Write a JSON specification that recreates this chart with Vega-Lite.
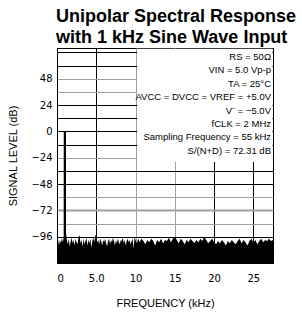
{
  "$schema": "https://vega.github.io/schema/vega-lite/v6.json",
  "autosize": "none",
  "padding": {"left": 57, "top": 48, "right": 29, "bottom": 49},
  "width": 216,
  "height": 215,
  "background": "white",
  "title": {
    "text": ["Unipolar Spectral Response", "with 1 kHz Sine Wave Input"],
    "anchor": "start",
    "frame": "group",
    "font": "Liberation Sans",
    "fontSize": 18,
    "fontWeight": "bold",
    "color": "black",
    "lineHeight": 20.6,
    "offset": 1,
    "dx": -1
  },
  "config": {
    "view": {"stroke": "black", "strokeWidth": 1},
    "axis": {
      "domain": false,
      "ticks": false,
      "labelColor": "black",
      "titleColor": "black",
      "labelFont": "DejaVu Sans",
      "labelFontSize": 10,
      "titleFont": "Liberation Sans",
      "titleFontSize": 11,
      "titleFontWeight": "normal",
      "gridOpacity": 1
    }
  },
  "data": {
    "values": [
      {"f": 0, "db": -100}, {"f": 0.125, "db": -98}, {"f": 0.25, "db": -104}, {"f": 0.375, "db": -99},
      {"f": 0.5, "db": -102}, {"f": 0.625, "db": -97}, {"f": 0.75, "db": -101}, {"f": 0.85, "db": -97},
      {"f": 0.86, "db": 0}, {"f": 1.14, "db": 0}, {"f": 1.15, "db": -93}, {"f": 1.25, "db": -99},
      {"f": 1.375, "db": -103}, {"f": 1.5, "db": -98}, {"f": 1.625, "db": -105}, {"f": 1.75, "db": -100},
      {"f": 1.875, "db": -97}, {"f": 2.0, "db": -102}, {"f": 2.125, "db": -99}, {"f": 2.25, "db": -104},
      {"f": 2.375, "db": -98}, {"f": 2.5, "db": -101}, {"f": 2.625, "db": -103}, {"f": 2.75, "db": -96},
      {"f": 2.875, "db": -95}, {"f": 3.0, "db": -102}, {"f": 3.125, "db": -99}, {"f": 3.25, "db": -105},
      {"f": 3.375, "db": -98}, {"f": 3.5, "db": -103}, {"f": 3.625, "db": -100}, {"f": 3.75, "db": -97},
      {"f": 3.875, "db": -104}, {"f": 4.0, "db": -99}, {"f": 4.125, "db": -102}, {"f": 4.25, "db": -98},
      {"f": 4.375, "db": -106}, {"f": 4.5, "db": -100}, {"f": 4.625, "db": -97}, {"f": 4.75, "db": -101},
      {"f": 4.875, "db": -95}, {"f": 5.0, "db": -94}, {"f": 5.125, "db": -101}, {"f": 5.25, "db": -99},
      {"f": 5.375, "db": -103}, {"f": 5.5, "db": -98}, {"f": 5.625, "db": -100}, {"f": 5.75, "db": -104},
      {"f": 5.875, "db": -99}, {"f": 6.0, "db": -101}, {"f": 6.125, "db": -98}, {"f": 6.25, "db": -102},
      {"f": 6.375, "db": -105}, {"f": 6.5, "db": -100}, {"f": 6.625, "db": -98}, {"f": 6.75, "db": -103},
      {"f": 6.875, "db": -99}, {"f": 7.0, "db": -101}, {"f": 7.125, "db": -97}, {"f": 7.25, "db": -100},
      {"f": 7.375, "db": -104}, {"f": 7.5, "db": -99}, {"f": 7.625, "db": -102}, {"f": 7.75, "db": -98},
      {"f": 7.875, "db": -101}, {"f": 8.0, "db": -103}, {"f": 8.125, "db": -99}, {"f": 8.25, "db": -100},
      {"f": 8.375, "db": -97}, {"f": 8.5, "db": -102}, {"f": 8.625, "db": -99}, {"f": 8.75, "db": -104},
      {"f": 8.875, "db": -100}, {"f": 9.0, "db": -98}, {"f": 9.125, "db": -101}, {"f": 9.25, "db": -99},
      {"f": 9.375, "db": -103}, {"f": 9.5, "db": -100}, {"f": 9.625, "db": -98}, {"f": 9.75, "db": -107},
      {"f": 9.875, "db": -96}, {"f": 10.0, "db": -99}, {"f": 10.125, "db": -102}, {"f": 10.25, "db": -100},
      {"f": 10.375, "db": -98}, {"f": 10.5, "db": -101},
      {"f": 10.75, "db": -98}, {"f": 11, "db": -100}, {"f": 11.25, "db": -103}, {"f": 11.5, "db": -99},
      {"f": 11.75, "db": -101}, {"f": 12, "db": -98}, {"f": 12.25, "db": -100}, {"f": 12.5, "db": -104},
      {"f": 12.75, "db": -99}, {"f": 13, "db": -101}, {"f": 13.25, "db": -98}, {"f": 13.5, "db": -102},
      {"f": 13.75, "db": -99}, {"f": 14, "db": -100}, {"f": 14.25, "db": -97}, {"f": 14.5, "db": -101},
      {"f": 14.75, "db": -98}, {"f": 15, "db": -96}, {"f": 15.25, "db": -99}, {"f": 15.5, "db": -102},
      {"f": 15.75, "db": -98}, {"f": 16, "db": -100}, {"f": 16.25, "db": -103}, {"f": 16.5, "db": -99},
      {"f": 16.75, "db": -101}, {"f": 17, "db": -98}, {"f": 17.25, "db": -100}, {"f": 17.5, "db": -102},
      {"f": 17.75, "db": -99}, {"f": 18, "db": -101}, {"f": 18.25, "db": -98}, {"f": 18.5, "db": -100},
      {"f": 18.75, "db": -96}, {"f": 19, "db": -99}, {"f": 19.25, "db": -102}, {"f": 19.5, "db": -100},
      {"f": 19.75, "db": -98}, {"f": 20, "db": -101}, {"f": 20.25, "db": -103}, {"f": 20.5, "db": -100},
      {"f": 20.75, "db": -102}, {"f": 21, "db": -99}, {"f": 21.25, "db": -101}, {"f": 21.5, "db": -104},
      {"f": 21.75, "db": -100}, {"f": 22, "db": -102}, {"f": 22.25, "db": -99}, {"f": 22.5, "db": -101},
      {"f": 22.75, "db": -103}, {"f": 23, "db": -100}, {"f": 23.25, "db": -98}, {"f": 23.5, "db": -102},
      {"f": 23.75, "db": -99}, {"f": 24, "db": -101}, {"f": 24.25, "db": -104}, {"f": 24.5, "db": -100},
      {"f": 24.75, "db": -98}, {"f": 25, "db": -101}, {"f": 25.25, "db": -99}, {"f": 25.5, "db": -103},
      {"f": 25.75, "db": -100}, {"f": 26, "db": -98}, {"f": 26.25, "db": -101}, {"f": 26.5, "db": -99},
      {"f": 26.75, "db": -100}, {"f": 27, "db": -98}, {"f": 27.25, "db": -100}, {"f": 27.5, "db": -99}
    ]
  },
  "encoding": {
    "x": {
      "field": "f",
      "type": "quantitative",
      "scale": {"domain": [0, 27.5], "nice": false, "zero": false},
      "axis": {
        "title": "FREQUENCY (kHz)",
        "values": [0, 5, 10, 15, 20, 25],
        "labelExpr": "datum.value == 5 ? '5.0' : datum.label",
        "labelPadding": 10,
        "titleY": 34,
        "gridColor": {"condition": {"test": "datum.value == 10 || datum.value == 15", "value": "#a0a0a0"}, "value": "black"}
      }
    },
    "y": {
      "field": "db",
      "type": "quantitative",
      "scale": {"domain": [-120, 76], "nice": false, "zero": false},
      "axis": {
        "title": "SIGNAL LEVEL (dB)",
        "values": [-120, -108, -96, -84, -72, -60, -48, -36, -24, -12, 0, 12, 24, 36, 48, 60, 72],
        "labelExpr": "(datum.value % 24 == 0 && datum.value >= -96 && datum.value <= 48) ? datum.label : ''",
        "labelPadding": 5,
        "titleX": -39,
        "titleY": 107.5,
        "gridColor": {"condition": {"test": "indexof([48, 36, -24, -60, -72, -84], datum.value) >= 0", "value": "#a0a0a0"}, "value": "black"},
        "gridWidth": {"condition": {"test": "datum.value == -72", "value": 2}, "value": 1}
      }
    }
  },
  "layer": [
    {
      "mark": {"type": "area", "color": "black", "interpolate": "linear", "clip": true},
      "encoding": {"y2": {"datum": -120}}
    },
    {
      "transform": [{"filter": "datum.f == 0"}],
      "mark": {"type": "rect", "color": "white"},
      "encoding": {
        "x": {"datum": 10.2},
        "x2": {"datum": 27.42},
        "y": {"datum": -28},
        "y2": {"datum": 75.4}
      }
    },
    {
      "transform": [{"filter": "datum.f == 0"}],
      "mark": {
        "type": "text",
        "align": "right",
        "baseline": "alphabetic",
        "font": "Liberation Sans",
        "fontSize": 9.5,
        "color": "black",
        "lineHeight": 13.4,
        "dx": -2,
        "dy": 12
      },
      "encoding": {
        "x": {"datum": 27.5},
        "y": {"datum": 76},
        "text": {"value": ["RS = 50Ω", "VIN = 5.0 Vp-p", "TA = 25°C", "AVCC = DVCC = VREF = +5.0V", "V⁻ = −5.0V", "fCLK = 2 MHz", "Sampling Frequency = 55 kHz", "S/(N+D) = 72.31 dB"]}
      }
    }
  ]
}
